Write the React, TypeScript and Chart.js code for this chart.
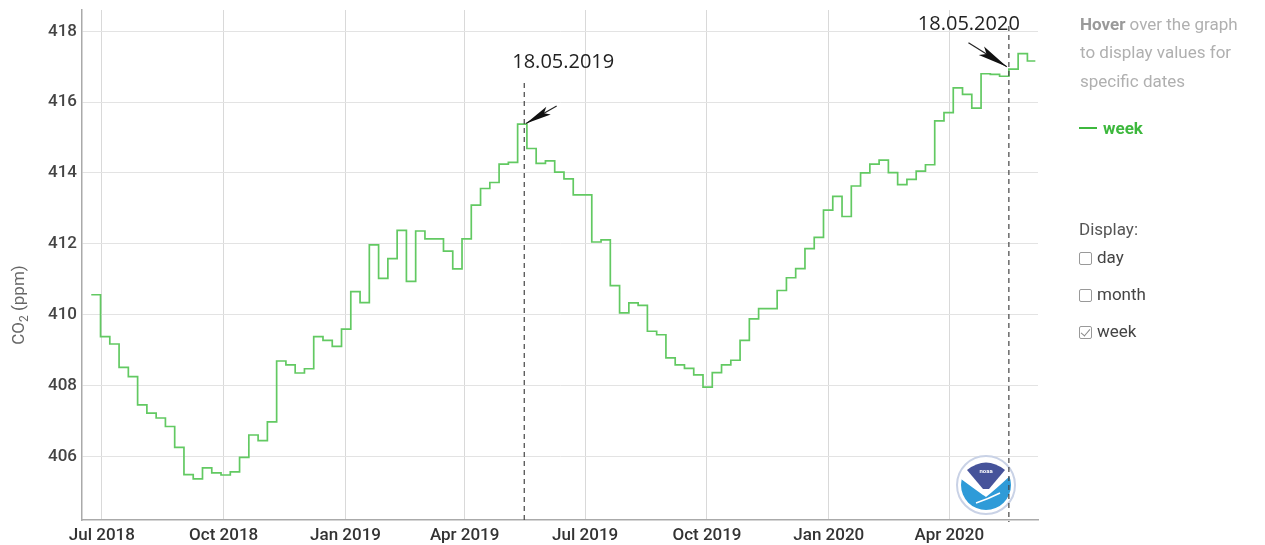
import React, { useEffect, useRef } from 'react';
import { Chart, registerables } from 'chart.js';

Chart.register(...registerables);

// ---- data ----
const weekStart = '2018-06-23';
const dataEnd = '2020-06-05';
const co2Week = [
  410.56, 409.38, 409.17, 408.51, 408.25, 407.45, 407.22, 407.08, 406.84, 406.25,
  405.48, 405.36, 405.67, 405.53, 405.47, 405.56, 405.97, 406.6, 406.44, 406.97,
  408.69, 408.58, 408.35, 408.47, 409.38, 409.27, 409.1, 409.59, 410.65, 410.34,
  411.97, 411.02, 411.58, 412.38, 410.94, 412.36, 412.14, 412.14, 411.79, 411.29,
  412.14, 413.09, 413.56, 413.73, 414.25, 414.3, 415.38, 414.69, 414.27, 414.34,
  414.02, 413.83, 413.38, 413.38, 412.05, 412.11, 410.82, 410.05, 410.33, 410.26,
  409.53, 409.43, 408.78, 408.58, 408.48, 408.3, 407.95, 408.36, 408.58, 408.71,
  409.27, 409.88, 410.17, 410.17, 410.68, 411.04, 411.3, 411.86, 412.18, 412.95,
  413.34, 412.77, 413.63, 414.0, 414.25, 414.36, 414.01, 413.67, 413.82, 414.05,
  414.23, 415.47, 415.7, 416.4, 416.22, 415.83, 416.8, 416.78, 416.73, 416.93,
  417.37, 417.16,
];
const tickDates = [
  '2018-07-01', '2018-10-01', '2019-01-01', '2019-04-01',
  '2019-07-01', '2019-10-01', '2020-01-01', '2020-04-01',
];
const tickLabels = [
  'Jul 2018', 'Oct 2018', 'Jan 2019', 'Apr 2019',
  'Jul 2019', 'Oct 2019', 'Jan 2020', 'Apr 2020',
];
const yTicks = [406, 408, 410, 412, 414, 416, 418];
const yMin = 404.2;
const yMax = 418.6;
const xMinDate = '2018-06-16';
const xMaxDate = '2020-06-07';
const markerDates = ['2019-05-16', '2020-05-16'];
const markerLabels = ['18.05.2019', '18.05.2020'];

const EPOCH = Date.UTC(2018, 6, 1);
function dayOf(s: string): number {
  const [y, m, d] = s.split('-').map(Number);
  return (Date.UTC(y, m - 1, d) - EPOCH) / 86400000;
}

// ---- styles for annotations (pixels relative to the marker line) ----
const markerStyles = [
  { lineTop: 83, textDx: 39, textY: 62, tail: [32.4, 106], tip: [1.7, 123.5], headLen: 26, headW: 9 },
  { lineTop: 26, textDx: -40, textY: 24, tail: [-40.4, 42.7], tip: [-2, 66.7], headLen: 30, headW: 10 },
];

function drawArrow(ctx: CanvasRenderingContext2D, tx: number, ty: number, hx: number, hy: number, headLen: number, headW: number) {
  const dx = hx - tx;
  const dy = hy - ty;
  const len = Math.hypot(dx, dy);
  const ux = dx / len;
  const uy = dy / len;
  const px = -uy;
  const py = ux;
  ctx.save();
  ctx.strokeStyle = '#222';
  ctx.fillStyle = '#111';
  ctx.lineWidth = 1.2;
  ctx.beginPath();
  ctx.moveTo(tx, ty);
  ctx.lineTo(hx, hy);
  ctx.stroke();
  const bx = hx - ux * headLen;
  const by = hy - uy * headLen;
  ctx.beginPath();
  ctx.moveTo(hx, hy);
  ctx.lineTo(bx + px * headW / 2, by + py * headW / 2);
  ctx.lineTo(bx + ux * headLen * 0.2, by + uy * headLen * 0.2);
  ctx.lineTo(bx - px * headW / 2, by - py * headW / 2);
  ctx.closePath();
  ctx.fill();
  ctx.restore();
}

function drawNoaa(ctx: CanvasRenderingContext2D, cx: number, cy: number) {
  const r = 29;
  const r2 = 25;
  ctx.save();
  ctx.beginPath();
  ctx.arc(cx, cy, r, 0, Math.PI * 2);
  ctx.fillStyle = '#ffffff';
  ctx.fill();
  ctx.lineWidth = 2;
  ctx.strokeStyle = '#c9d2e6';
  ctx.stroke();
  ctx.beginPath();
  ctx.arc(cx, cy, r2, 0, Math.PI * 2);
  ctx.clip();
  ctx.fillStyle = '#ffffff';
  ctx.fillRect(cx - r2, cy - r2, r2 * 2, r2 * 2);
  ctx.beginPath();
  ctx.moveTo(cx - 19, cy - 15);
  ctx.quadraticCurveTo(cx, cy - 30, cx + 19, cy - 15);
  ctx.lineTo(cx + 3, cy + 4);
  ctx.lineTo(cx - 3, cy + 4);
  ctx.closePath();
  ctx.fillStyle = '#46539a';
  ctx.fill();
  ctx.beginPath();
  ctx.moveTo(cx - r2, cy - 6);
  ctx.quadraticCurveTo(cx - 6, cy + 8, cx, cy + 12);
  ctx.quadraticCurveTo(cx + 10, cy + 4, cx + r2, cy - 10);
  ctx.lineTo(cx + r2, cy + r2);
  ctx.lineTo(cx - r2, cy + r2);
  ctx.closePath();
  ctx.fillStyle = '#2e9bd8';
  ctx.fill();
  ctx.beginPath();
  ctx.moveTo(cx - 10, cy + 18);
  ctx.quadraticCurveTo(cx + 2, cy + 14, cx + 14, cy + 8);
  ctx.strokeStyle = '#ffffff';
  ctx.lineWidth = 1.5;
  ctx.stroke();
  ctx.fillStyle = '#ffffff';
  ctx.font = 'bold 6px Roboto';
  ctx.textAlign = 'center';
  ctx.textBaseline = 'middle';
  ctx.fillText('noaa', cx, cy - 14);
  ctx.restore();
}

const annotationPlugin = {
  id: 'co2Annotations',
  afterDatasetsDraw(chart: any) {
    const { ctx, chartArea } = chart;
    const xs = chart.scales.x;
    drawNoaa(ctx, chartArea.right - 52, chartArea.bottom - 35);
    markerDates.forEach((d, i) => {
      const st = markerStyles[i];
      const lx = xs.getPixelForValue(dayOf(d));
      ctx.save();
      ctx.strokeStyle = '#444';
      ctx.lineWidth = 1.2;
      ctx.setLineDash([5, 4]);
      ctx.beginPath();
      ctx.moveTo(lx, st.lineTop);
      ctx.lineTo(lx, chartArea.bottom + 2);
      ctx.stroke();
      ctx.restore();
      drawArrow(ctx, lx + st.tail[0], st.tail[1], lx + st.tip[0], st.tip[1], st.headLen, st.headW);
      ctx.save();
      ctx.fillStyle = '#222';
      ctx.font = '20px "Open Sans"';
      ctx.textAlign = 'center';
      ctx.textBaseline = 'middle';
      ctx.fillText(markerLabels[i], lx + st.textDx, st.textY);
      ctx.restore();
    });
  },
  afterDraw(chart: any) {
    const { ctx } = chart;
    ctx.save();
    ctx.translate(20, 305);
    ctx.rotate(-Math.PI / 2);
    ctx.fillStyle = '#666';
    ctx.textBaseline = 'middle';
    ctx.font = '17px Roboto';
    const a = 'CO';
    const b = '2';
    const c = ' (ppm)';
    const wa = ctx.measureText(a).width;
    const wc = ctx.measureText(c).width;
    ctx.font = '12px Roboto';
    const wb = ctx.measureText(b).width;
    const total = wa + wb + wc;
    const x0 = -total / 2;
    ctx.font = '17px Roboto';
    ctx.fillText(a, x0, 0);
    ctx.font = '12px Roboto';
    ctx.fillText(b, x0 + wa, 5);
    ctx.font = '17px Roboto';
    ctx.fillText(c, x0 + wa + wb, 0);
    ctx.restore();
  },
};

export default function App() {
  const ref = useRef<HTMLCanvasElement | null>(null);

  useEffect(() => {
    if (!ref.current) return;
    const start = dayOf(weekStart);
    const points = co2Week.map((v, i) => ({ x: start + 7 * i, y: v }));
    points.push({ x: dayOf(dataEnd), y: co2Week[co2Week.length - 1] });
    const tickDays = tickDates.map(dayOf);

    const chart = new Chart(ref.current, {
      type: 'line',
      data: {
        datasets: [
          {
            label: 'week',
            data: points,
            stepped: true,
            borderColor: '#62c962',
            borderWidth: 1.7,
            pointRadius: 0,
            fill: false,
          },
        ],
      },
      options: {
        animation: false,
        responsive: false,
        devicePixelRatio: 1,
        layout: { padding: { left: 0, right: 1265 - 1038, top: 10, bottom: 0 } },
        plugins: {
          legend: { display: false },
          tooltip: { enabled: false },
        },
        scales: {
          x: {
            type: 'linear',
            min: dayOf(xMinDate),
            max: dayOf(xMaxDate),
            afterBuildTicks: (scale: any) => {
              scale.ticks = tickDays.map((v) => ({ value: v }));
            },
            afterFit: (scale: any) => {
              scale.height = 25;
              scale.paddingLeft = 0;
              scale.paddingRight = 0;
            },
            grid: { color: '#d9d9d9', lineWidth: 1, drawTicks: false },
            border: { display: true, color: '#aaaaaa', width: 1.5 },
            ticks: {
              autoSkip: false,
              maxRotation: 0,
              padding: 6,
              color: '#333',
              font: { family: 'Roboto', size: 17, weight: '500' },
              callback: (v: any) => {
                const idx = tickDays.indexOf(Number(v));
                return idx >= 0 ? tickLabels[idx] : '';
              },
            },
          },
          y: {
            type: 'linear',
            min: yMin,
            max: yMax,
            afterBuildTicks: (scale: any) => {
              scale.ticks = yTicks.map((v) => ({ value: v }));
            },
            afterFit: (scale: any) => {
              scale.width = 82;
              scale.paddingTop = 0;
              scale.paddingBottom = 0;
            },
            grid: { color: '#e3e3e3', lineWidth: 1, drawTicks: false },
            border: { display: true, color: '#aaaaaa', width: 1.5 },
            ticks: {
              padding: 5,
              color: '#444',
              font: { family: 'Roboto', size: 17, weight: '500' },
              callback: (v: any) => String(v),
            },
          },
        },
      },
      plugins: [annotationPlugin],
    } as any);

    return () => chart.destroy();
  }, []);

  const panelFont = 'Roboto, "Noto Sans", sans-serif';
  const box = (checked: boolean) => (
    <span
      style={{
        display: 'inline-block',
        width: 13,
        height: 13,
        border: '1.5px solid #999',
        borderRadius: 2,
        marginRight: 5,
        verticalAlign: '-2px',
        position: 'relative',
        boxSizing: 'border-box',
      }}
    >
      {checked && (
        <span
          style={{
            position: 'absolute',
            left: 3,
            top: 0,
            width: 4,
            height: 8,
            borderRight: '1.5px solid #888',
            borderBottom: '1.5px solid #888',
            transform: 'rotate(40deg)',
          }}
        />
      )}
    </span>
  );

  return (
    <div
      style={{
        position: 'fixed',
        left: 0,
        top: 0,
        width: 1265,
        height: 545,
        background: '#fff',
        overflow: 'hidden',
      }}
    >
      <canvas ref={ref} width={1265} height={545} style={{ position: 'absolute', left: 0, top: 0, width: 1265, height: 545 }} />
      <div
        style={{
          position: 'absolute',
          left: 1080,
          top: 10,
          fontFamily: panelFont,
          fontSize: 17,
          lineHeight: '28.3px',
          color: '#b0b0b0',
          whiteSpace: 'nowrap',
        }}
      >
        <span style={{ fontWeight: 700, color: '#9a9a9a' }}>Hover</span> over the graph
        <br />
        to display values for
        <br />
        specific dates
      </div>
      <div
        style={{
          position: 'absolute',
          left: 1079,
          top: 114,
          fontFamily: panelFont,
          fontSize: 17,
          lineHeight: '28px',
          fontWeight: 700,
          color: '#3db83d',
          whiteSpace: 'nowrap',
        }}
      >
        <span
          style={{
            display: 'inline-block',
            width: 18,
            height: 2,
            background: '#3db83d',
            verticalAlign: '5px',
            marginRight: 6,
          }}
        />
        week
      </div>
      <div
        style={{
          position: 'absolute',
          left: 1079,
          top: 215,
          fontFamily: panelFont,
          fontSize: 17,
          lineHeight: '28px',
          color: '#555',
          whiteSpace: 'nowrap',
        }}
      >
        Display:
      </div>
      <div style={{ position: 'absolute', left: 1079, top: 243, fontFamily: panelFont, fontSize: 17, lineHeight: '28px', color: '#444', whiteSpace: 'nowrap' }}>
        {box(false)}day
      </div>
      <div style={{ position: 'absolute', left: 1079, top: 280, fontFamily: panelFont, fontSize: 17, lineHeight: '28px', color: '#444', whiteSpace: 'nowrap' }}>
        {box(false)}month
      </div>
      <div style={{ position: 'absolute', left: 1079, top: 317, fontFamily: panelFont, fontSize: 17, lineHeight: '28px', color: '#444', whiteSpace: 'nowrap' }}>
        {box(true)}week
      </div>
    </div>
  );
}
